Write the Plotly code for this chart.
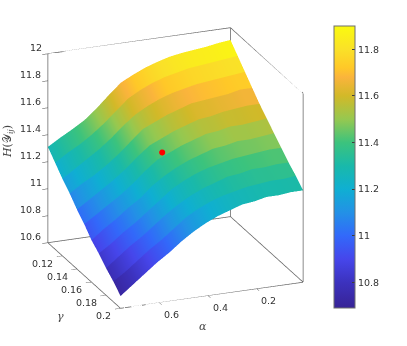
import numpy as np
import plotly.graph_objects as go

alpha = [0.01, 0.06, 0.11, 0.16, 0.21, 0.26, 0.31, 0.36, 0.41, 0.46, 0.51, 0.56, 0.61, 0.66, 0.71, 0.76]
gamma = [0.10, 0.11, 0.12, 0.13, 0.14, 0.15, 0.16, 0.17, 0.18, 0.19, 0.20]
H = [
    [11.91, 11.90, 11.885, 11.875, 11.865, 11.85, 11.825, 11.795, 11.755, 11.71, 11.63, 11.545, 11.47, 11.415, 11.365, 11.31],
    [11.84, 11.83, 11.82, 11.81, 11.80, 11.78, 11.76, 11.73, 11.69, 11.64, 11.56, 11.48, 11.41, 11.35, 11.30, 11.24],
    [11.77, 11.76, 11.75, 11.74, 11.73, 11.71, 11.69, 11.66, 11.62, 11.57, 11.50, 11.42, 11.35, 11.29, 11.23, 11.17],
    [11.70, 11.70, 11.68, 11.67, 11.66, 11.65, 11.62, 11.59, 11.55, 11.51, 11.43, 11.35, 11.28, 11.22, 11.17, 11.11],
    [11.63, 11.63, 11.62, 11.61, 11.59, 11.58, 11.55, 11.52, 11.48, 11.44, 11.37, 11.29, 11.22, 11.16, 11.10, 11.04],
    [11.57, 11.56, 11.55, 11.55, 11.53, 11.52, 11.49, 11.46, 11.42, 11.38, 11.31, 11.23, 11.16, 11.10, 11.04, 10.98],
    [11.51, 11.50, 11.49, 11.49, 11.47, 11.46, 11.43, 11.40, 11.36, 11.31, 11.25, 11.17, 11.11, 11.04, 10.98, 10.91],
    [11.45, 11.45, 11.44, 11.43, 11.42, 11.40, 11.38, 11.35, 11.31, 11.26, 11.19, 11.12, 11.05, 10.99, 10.92, 10.86],
    [11.39, 11.39, 11.38, 11.38, 11.36, 11.35, 11.32, 11.29, 11.25, 11.20, 11.14, 11.07, 11.00, 10.94, 10.87, 10.80],
    [11.34, 11.33, 11.33, 11.32, 11.31, 11.29, 11.27, 11.24, 11.20, 11.15, 11.08, 11.01, 10.95, 10.88, 10.81, 10.75],
    [11.28, 11.28, 11.27, 11.27, 11.25, 11.24, 11.21, 11.18, 11.14, 11.09, 11.03, 10.96, 10.90, 10.83, 10.76, 10.69],
]
best_alpha = [0.44]
best_gamma = [0.15]
best_H = [11.43]

alpha_ticks = [0.2, 0.4, 0.6]
gamma_ticks = [0.12, 0.14, 0.16, 0.18, 0.2]
H_ticks = [10.6, 10.8, 11, 11.2, 11.4, 11.6, 11.8, 12]
cbar_ticks = [10.8, 11, 11.2, 11.4, 11.6, 11.8]

cmap_vals = [10.69, 10.8, 10.9, 11.0, 11.1, 11.2, 11.3, 11.4, 11.5, 11.6, 11.68, 11.72, 11.8, 11.90]
cmap_cols = ["rgb(55,35,150)", "rgb(60,50,190)", "rgb(70,70,235)", "rgb(50,105,250)", "rgb(35,145,230)",
             "rgb(15,175,210)", "rgb(25,185,170)", "rgb(60,195,125)", "rgb(150,200,80)", "rgb(210,185,40)",
             "rgb(250,180,60)", "rgb(255,200,40)", "rgb(250,225,40)", "rgb(250,250,15)"]

xlim = [0.01, 0.76]
ylim = [0.10, 0.20]
zlim = [10.6, 12.0]
cmin, cmax = cmap_vals[0], cmap_vals[-1]
scale = [[(v - cmin) / (cmax - cmin), c] for v, c in zip(cmap_vals, cmap_cols)]

# each gamma strip gets its own vertices: colour steps between strips, runs smooth along alpha
a = np.array(alpha)
g = np.array(gamma)
h = np.array(H)
na, ng = len(a), len(g)
vx, vy, vz, vc = [], [], [], []
ti, tj, tk = [], [], []
for r in range(ng - 1):
    base = len(vx)
    level = (h[r] + h[r + 1]) / 2
    vx += list(a) + list(a)
    vy += [g[r]] * na + [g[r + 1]] * na
    vz += list(h[r]) + list(h[r + 1])
    vc += list(level) + list(level)
    for c in range(na - 1):
        p = base + c
        ti += [p, p]
        tj += [p + 1, p + na + 1]
        tk += [p + na + 1, p + na]

fig = go.Figure()
fig.add_trace(go.Mesh3d(
    x=vx, y=vy, z=vz, i=ti, j=tj, k=tk, intensity=vc,
    cmin=cmin, cmax=cmax, colorscale=scale, hoverinfo="skip",
    lighting=dict(ambient=1, diffuse=0, specular=0, roughness=1, fresnel=0),
    colorbar=dict(
        x=334 / 407, xanchor="left", xpad=0, y=(346 - 167) / 346, yanchor="middle", ypad=0,
        thickness=21, thicknessmode="pixels", len=282, lenmode="pixels",
        tickvals=cbar_ticks, ticktext=[f"{t:g}" for t in cbar_ticks],
        ticks="inside", ticklen=3, tickcolor="rgb(60,60,60)", outlinecolor="rgb(110,110,110)", outlinewidth=1,
        tickfont=dict(family="DejaVu Sans", size=9.5, color="rgb(50,50,50)"),
    ),
))

# box edges, without the three that would pass in front of the surface
x0, x1 = xlim
y0, y1 = ylim
z0, z1 = zlim
edges = [
    [(x1, y0, z0), (x1, y0, z1)], [(x0, y0, z0), (x0, y0, z1)], [(x0, y1, z0), (x0, y1, z1)],
    [(x1, y0, z0), (x0, y0, z0)], [(x0, y0, z0), (x0, y1, z0)], [(x1, y0, z0), (x1, y1, z0)],
    [(x1, y1, z0), (x0, y1, z0)], [(x1, y0, z1), (x0, y0, z1)], [(x0, y0, z1), (x0, y1, z1)],
]
ex, ey, ez = [], [], []
for p, q in edges:
    ex += [p[0], q[0], None]
    ey += [p[1], q[1], None]
    ez += [p[2], q[2], None]
fig.add_trace(go.Scatter3d(x=ex, y=ey, z=ez, mode="lines", line=dict(color="rgb(100,100,100)", width=1.5),
                           hoverinfo="skip", showlegend=False))
fig.add_trace(go.Scatter3d(x=best_alpha, y=best_gamma, z=best_H, mode="markers",
                           marker=dict(color="rgb(255,0,0)", size=3.5), hoverinfo="skip", showlegend=False))

tickfont = dict(family="DejaVu Sans", size=9.5, color="rgb(50,50,50)")
titlefont = dict(family="DejaVu Serif", size=11, color="rgb(70,70,70)")
axis = dict(showbackground=False, showgrid=False, zeroline=False, showline=False, showspikes=False,
            ticks="outside", ticklen=6, tickwidth=1, tickcolor="rgb(70,70,70)", showticklabels=False,
            title=dict(text=""))


def half_width(txt):
    return len(txt) * 5.3 / 2


# tick labels as scene annotations: they need a pixel offset from the axis that plotly's own labels can't take
labels = []
inner_x = x1 - 1e-6
for t in H_ticks:
    txt = f"{t:g}"
    labels.append(dict(x=inner_x, y=y0, z=t, text=txt, xshift=-7 - half_width(txt), yshift=6))
for t in gamma_ticks:
    txt = f"{t:g}"
    labels.append(dict(x=inner_x, y=t, z=z0, text=txt, xshift=-9 - half_width(txt), yshift=-8))
for t in alpha_ticks:
    labels.append(dict(x=t, y=y1, z=z0, text=f"{t:g}", xshift=12, yshift=-12))
for lab in labels:
    lab.update(showarrow=False, font=tickfont, xanchor="center", yanchor="middle")

fig.update_layout(
    width=407, height=346, margin=dict(l=0, r=0, t=0, b=0), paper_bgcolor="white", showlegend=False,
    scene=dict(
        domain=dict(x=[0, 0.862], y=[0.03, 1]),
        aspectmode="manual", aspectratio=dict(x=1.17, y=1.17, z=1.205),
        camera=dict(projection=dict(type="orthographic"),
                    eye=dict(x=0.345 * 1.71, y=0.867 * 1.71, z=0.359 * 1.71),
                    center=dict(x=0, y=0, z=0), up=dict(x=0, y=0, z=1)),
        xaxis=dict(axis, range=xlim, tickvals=alpha_ticks),
        yaxis=dict(axis, range=ylim, tickvals=gamma_ticks),
        zaxis=dict(axis, range=zlim, tickvals=H_ticks),
        annotations=labels,
    ),
    annotations=[
        dict(text="<i>H</i>(𝒴<sub><i>ij</i></sub>)", x=8 / 407, y=1 - 142 / 346, textangle=-90, font=titlefont,
             xref="paper", yref="paper", xanchor="center", yanchor="middle", showarrow=False),
        dict(text="<i>γ</i>", x=60 / 407, y=1 - 316 / 346, font=titlefont, xref="paper", yref="paper",
             xanchor="center", yanchor="middle", showarrow=False),
        dict(text="<i>α</i>", x=203 / 407, y=1 - 326 / 346, font=titlefont, xref="paper", yref="paper",
             xanchor="center", yanchor="middle", showarrow=False),
    ],
)

# the page's default body margin would push the plot 8px in and cut the left label
fig.write_html("out.html", config={"displayModeBar": False}, post_script="document.body.style.margin='0';")
